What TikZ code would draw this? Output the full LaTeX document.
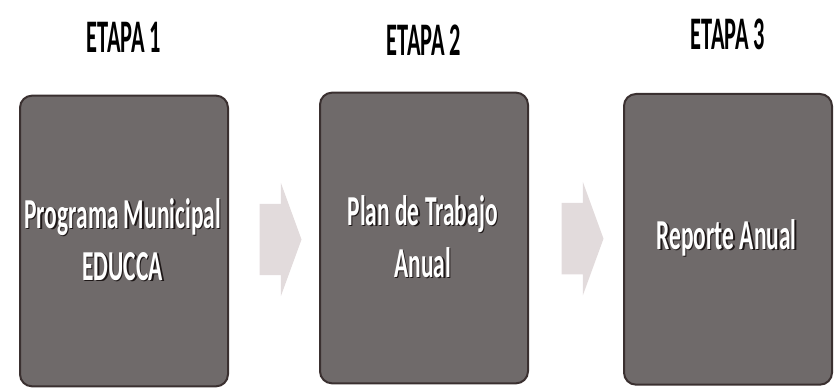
\documentclass[tikz,border=0pt]{standalone}
\usepackage{fontspec}
\newfontfamily\etapafont[FakeStretch=0.48]{Carlito}
\newfontfamily\stagefont[FakeStretch=0.55]{Carlito}
\usetikzlibrary{positioning,shapes.arrows,calc}
\definecolor{boxgray}{RGB}{111,106,106}
\definecolor{boxedge}{RGB}{58,48,48}
\definecolor{arrowgray}{RGB}{226,219,220}
\definecolor{shade}{RGB}{30,24,24}
\tikzset{
  stage/.style={draw=boxedge, line width=1.5pt, fill=boxgray, rounded corners=9pt,
    minimum width=156pt, minimum height=218pt, align=center, text=shade,
    font=\stagefont\bfseries\fontsize{32}{39}\selectfont},
  stagetext/.style={align=center, text=white, xshift=-1pt, yshift=1pt,
    font=\stagefont\bfseries\fontsize{32}{39}\selectfont},
  stagetitle/.style={font=\etapafont\bfseries\fontsize{35}{35}\selectfont},
  stepto/.style={single arrow, fill=arrowgray, draw=none, minimum height=31.5pt,
    inner xsep=0pt, inner ysep=26.6pt, single arrow head extend=15.75pt,
    single arrow tip angle=140}
}
\begin{document}
\begin{tikzpicture}[x=0.75pt,y=-0.75pt]
    \useasboundingbox (0,0) rectangle (834,391);

    \node[stage, label={[stagetext]center:Programa Municipal\\EDUCCA}] (b1) at (124,241) {Programa Municipal\\EDUCCA};
    \node[stage, label={[stagetext]center:Plan de Trabajo\\Anual}, right=67.5pt of b1, yshift=2.25pt] (b2) {Plan de Trabajo\\Anual};
    \node[stage, label={[stagetext]center:Reporte Anual}, right=70.5pt of b2, yshift=-1pt] (b3) {Reporte Anual};

    \node[stagetitle] (t1) at (b1.north |- 0,37) {ETAPA 1};
    \node[stagetitle] (t2) at (b2.north |- 0,40) {ETAPA 2};
    \node[stagetitle] (t3) at (b3.north |- 0,34) {ETAPA 3};

    \node[stepto] (a1) at ($(b1.east)!0.5!(b2.west)$) {};
    \node[stepto] (a2) at ($(b2.east)!0.5!(b3.west)$) {};
\end{tikzpicture}
\end{document}
